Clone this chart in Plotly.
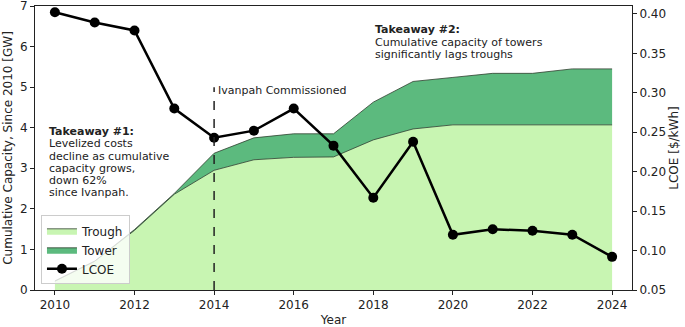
import plotly.graph_objects as go

years = list(range(2010, 2025))
trough = [0.22, 0.71, 1.47, 2.36, 2.95, 3.21, 3.27, 3.28, 3.70, 3.97, 4.07, 4.07, 4.07, 4.07, 4.07]
tower = [0.0, 0.0, 0.02, 0.02, 0.42, 0.54, 0.58, 0.57, 0.93, 1.17, 1.17, 1.27, 1.27, 1.38, 1.38]
lcoe = [0.402, 0.389, 0.379, 0.280, 0.243, 0.252, 0.280, 0.233, 0.167, 0.238, 0.120, 0.127, 0.125, 0.120, 0.092]

left_ticks = [0, 1, 2, 3, 4, 5, 6, 7]
right_ticks = [0.05, 0.10, 0.15, 0.20, 0.25, 0.30, 0.35, 0.40]
year_ticks = [2010, 2012, 2014, 2016, 2018, 2020, 2022, 2024]

ivanpah_year = 2014
ivanpah_top = 5.0

takeaway1 = ["<b>Takeaway #1:</b>", "Levelized costs", "decline as cumulative",
             "capacity grows,", "down 62%", "since Ivanpah."]
takeaway2 = ["<b>Takeaway #2:</b>", "Cumulative capacity of towers",
             "significantly lags troughs"]

FONT = "DejaVu Sans"
INK = "#222222"
LINE_GAP = 12.2

fig = go.Figure()
fig.add_trace(go.Scatter(
    x=years, y=trough, name="Trough", stackgroup="cap", mode="lines",
    line=dict(color="#2f3f2f", width=0.8), fillcolor="#c8f5b2",
))
fig.add_trace(go.Scatter(
    x=years, y=tower, name="Tower", stackgroup="cap", mode="lines",
    line=dict(color="#2f3f2f", width=0.8), fillcolor="#5cba7e",
))
fig.add_trace(go.Scatter(
    x=years, y=lcoe, name="LCOE", yaxis="y2", mode="lines+markers",
    line=dict(color="black", width=2.5), marker=dict(color="black", size=10),
))

fig.add_shape(type="line", xref="x", yref="y", x0=ivanpah_year, x1=ivanpah_year,
              y0=0, y1=ivanpah_top, line=dict(color=INK, width=1.5, dash="dash"))

fig.add_annotation(x=ivanpah_year, y=4.91, xref="x", yref="y",
                   text="Ivanpah Commissioned", showarrow=False,
                   xanchor="left", yanchor="middle", xshift=2,
                   font=dict(family=FONT, size=11, color=INK))

for i, line in enumerate(takeaway1):
    fig.add_annotation(x=2009.8, y=3.90, xref="x", yref="y", text=line,
                       showarrow=False, xanchor="left", yanchor="middle",
                       yshift=-LINE_GAP * i, font=dict(family=FONT, size=11, color=INK))
for i, line in enumerate(takeaway2):
    fig.add_annotation(x=2017.98, y=6.41, xref="x", yref="y", text=line,
                       showarrow=False, xanchor="left", yanchor="middle",
                       yshift=-LINE_GAP * i, font=dict(family=FONT, size=11, color=INK))

axis_common = dict(showline=True, linecolor=INK, linewidth=1, ticks="outside",
                   ticklen=4, tickcolor=INK, showgrid=False, zeroline=False,
                   ticklabeloverflow="allow",
                   tickfont=dict(family=FONT, size=12, color=INK))

fig.update_layout(
    width=685, height=327,
    margin=dict(l=35, r=53, t=6, b=37),
    paper_bgcolor="white", plot_bgcolor="white",
    font=dict(family=FONT, size=12, color=INK),
    showlegend=True,
    hovermode=False,
    legend=dict(x=0.01, y=0.02, xanchor="left", yanchor="bottom",
                bgcolor="rgba(255,255,255,0.8)", bordercolor="#cccccc", borderwidth=1,
                traceorder="normal", font=dict(family=FONT, size=12, color=INK)),
    xaxis=dict(range=[2009.5, 2024.5], tickvals=year_ticks, mirror=True,
               title=dict(text="Year", standoff=4, font=dict(family=FONT, size=12)),
               automargin=False, **axis_common),
    yaxis=dict(range=[0, 7], tickvals=left_ticks,
               title=dict(text="Cumulative Capacity, Since 2010 [GW]", standoff=4,
                          font=dict(family=FONT, size=12)),
               automargin=False, **axis_common),
    yaxis2=dict(range=[0.05, 0.41], overlaying="y", side="right", tickvals=right_ticks,
                tickformat=".2f",
                title=dict(text="LCOE [$/kWh]", standoff=4, font=dict(family=FONT, size=12)),
                automargin=False, **axis_common),
)

fig.write_html("out.html", config={"displayModeBar": False},
               post_script="document.body.style.margin='0';document.body.style.padding='0';")
